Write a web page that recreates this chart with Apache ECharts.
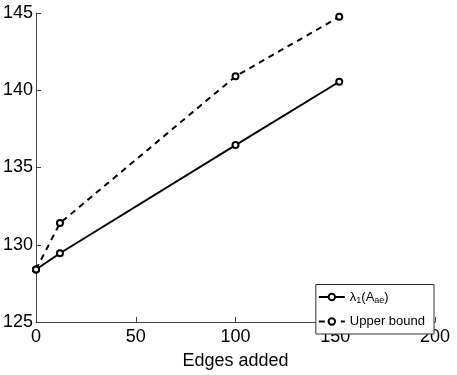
<!DOCTYPE html>
<html>
<head>
<meta charset="utf-8">
<script src="https://cdn.jsdelivr.net/npm/echarts@6/dist/echarts.min.js"></script>
<style>
  html, body { margin: 0; padding: 0; background: #fff; }
  #chart { width: 457px; height: 375px; }
</style>
</head>
<body>
<div id="chart"></div>
<script>
// values
const edgesAdded = [0, 12, 100, 152];
const lambda1 = [128.4, 129.45, 136.45, 140.55];
const upperBound = [128.4, 131.4, 140.9, 144.75];

const font = 'Liberation Sans, Arial, Helvetica, sans-serif';

const chart = echarts.init(document.getElementById('chart'));

function pairs (xs, ys) {
  return xs.map((x, i) => [x, ys[i]]);
}

const markerStyle = {
  color: '#fff',
  borderColor: '#000',
  borderWidth: 2
};

chart.setOption({
  animation: false,
  backgroundColor: '#fff',
  grid: {
    left: 34,
    right: 22,
    top: 13,
    bottom: 43
  },
  legend: {
    orient: 'vertical',
    right: 23,
    bottom: 41,
    padding: [6, 9, 6, 2],
    itemGap: 10,
    itemWidth: 26,
    itemHeight: 8,
    borderColor: '#333',
    borderWidth: 1,
    backgroundColor: '#fff',
    textStyle: {
      fontFamily: font,
      fontSize: 13,
      color: '#000'
    },
    formatter: function (name) {
      if (name === 'lambda') return '{t|λ}{sub|1}{t|(A}{sub|ae}{t|)}';
      return name;
    },
    data: [
      {
        name: 'lambda',
        textStyle: {
          rich: {
            t: { fontSize: 13, fontFamily: font, color: '#000' },
            sub: { fontSize: 9, fontFamily: font, color: '#000', verticalAlign: 'bottom', padding: [7, 0, 0, 0] }
          }
        }
      },
      { name: 'Upper bound' }
    ]
  },
  xAxis: {
    type: 'value',
    min: 0,
    max: 200,
    interval: 50,
    name: 'Edges added',
    nameLocation: 'middle',
    nameGap: 30,
    nameTextStyle: { fontFamily: font, fontSize: 18, color: '#000' },
    axisLine: { lineStyle: { color: '#444', width: 1 } },
    axisTick: { inside: true, length: 5, lineStyle: { color: '#444' } },
    axisLabel: { fontFamily: font, fontSize: 18, color: '#000', margin: 6 },
    splitLine: { show: false }
  },
  yAxis: {
    type: 'value',
    min: 125,
    max: 145,
    interval: 5,
    axisLine: { show: true, lineStyle: { color: '#444', width: 1 } },
    axisTick: { show: true, inside: true, length: 5, lineStyle: { color: '#444' } },
    axisLabel: { fontFamily: font, fontSize: 18, color: '#000', margin: 3 },
    splitLine: { show: false }
  },
  series: [
    {
      name: 'lambda',
      type: 'line',
      data: pairs(edgesAdded, lambda1),
      symbol: 'circle',
      symbolSize: 6,
      lineStyle: { color: '#000', width: 2 },
      itemStyle: markerStyle,
      z: 3
    },
    {
      name: 'Upper bound',
      type: 'line',
      data: pairs(edgesAdded, upperBound),
      symbol: 'circle',
      symbolSize: 6,
      lineStyle: { color: '#000', width: 2, type: [6, 5] },
      itemStyle: markerStyle,
      z: 2
    }
  ]
});
</script>
</body>
</html>
